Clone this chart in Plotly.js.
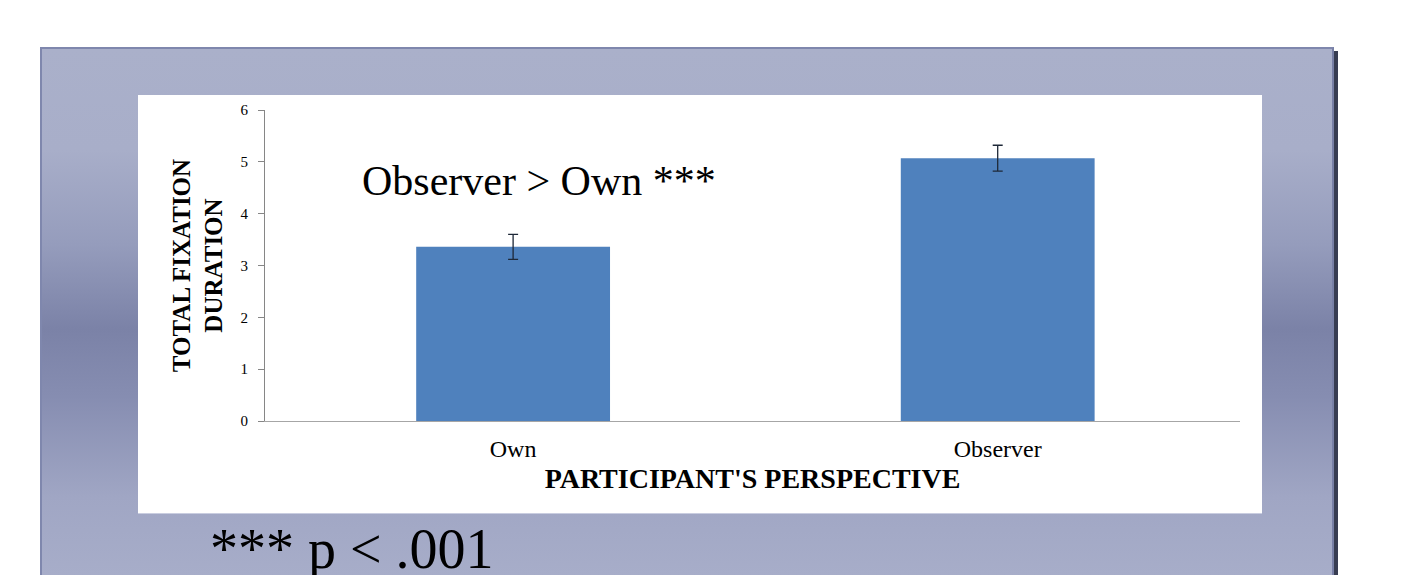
<!DOCTYPE html>
<html>
<head>
<meta charset="utf-8">
<script src="https://cdn.plot.ly/plotly-3.0.1.min.js"></script>
<style>
  html, body { margin: 0; padding: 0; background: #ffffff; width: 1415px; height: 575px; overflow: hidden; }
  #panel {
    position: absolute; left: 40px; top: 47px; width: 1290px; height: 560px;
    border-left: 2px solid #7f87ad; border-top: 2px solid #7f87ad; border-right: 2px solid #7880a6;
    background: linear-gradient(to bottom, #aab0ca 0%, #a8aec9 18%, #959cbc 35%, #7b82a7 50%, #868db1 62%, #a0a6c4 80%, #aab0cb 100%);
    box-shadow: 4px 4px 0 #383d52;
  }
  #whitebox {
    position: absolute; left: 138px; top: 95px; width: 1124px; height: 418px;
    background: #ffffff; box-shadow: 0 1px 0 #c9cde0;
  }
  #chart { position: absolute; left: 0; top: 0; width: 1415px; height: 575px; }
</style>
</head>
<body>
<div id="panel"></div>
<div id="whitebox"></div>
<div id="chart"></div>
<script>
const categories = ["Own", "Observer"];
const meanDuration = [3.36, 5.07];
const errorSize = [0.24, 0.25];
const yTickValues = [0, 1, 2, 3, 4, 5, 6];

const serif = "Liberation Serif, Times New Roman, serif";

const trace = {
  type: "bar",
  x: categories,
  y: meanDuration,
  marker: { color: "#4f81bd", line: { width: 0 } },
  error_y: { type: "data", array: errorSize, visible: true, color: "#1e2838", thickness: 1.3, width: 5 },
  hoverinfo: "x+y"
};

const layout = {
  width: 1415, height: 575,
  margin: { l: 265, r: 175, t: 110, b: 154 },
  paper_bgcolor: "rgba(0,0,0,0)",
  plot_bgcolor: "rgba(0,0,0,0)",
  showlegend: false,
  bargap: 0.6,
  xaxis: {
    type: "category",
    range: [-0.512, 1.5],
    showline: true, linecolor: "#a6a6a6", linewidth: 1.2,
    showgrid: false, zeroline: false, ticks: "",
    ticklabelstandoff: 6,
    tickfont: { family: serif, size: 24, color: "#000000" },
    title: { text: "PARTICIPANT'S PERSPECTIVE", font: { family: serif, size: 28, color: "#000000", weight: "bold" }, standoff: 7 },
    automargin: false
  },
  yaxis: {
    range: [0, 6],
    tickvals: yTickValues,
    showline: true, linecolor: "#868686", linewidth: 1,
    showgrid: false, zeroline: false,
    ticks: "outside", ticklen: 6, tickcolor: "#868686",
    ticklabelstandoff: 7,
    tickfont: { family: serif, size: 15, color: "#000000" },
    title: { text: "TOTAL FIXATION<br>DURATION", font: { family: serif, size: 25, color: "#000000", weight: "bold" }, standoff: 10 },
    automargin: false
  },
  annotations: [
    {
      text: "Observer > Own ***", xref: "paper", yref: "paper",
      x: 0.0975, y: 0.772, xanchor: "left", yanchor: "middle", showarrow: false,
      font: { family: serif, size: 42, color: "#000000" }
    },
    {
      text: "*** p < .001", xref: "paper", yref: "paper",
      x: (208 - 265) / 975, y: (421 - 549) / 311, xanchor: "left", yanchor: "middle", showarrow: false,
      font: { family: serif, size: 56, color: "#000000" }
    }
  ]
};

Plotly.newPlot("chart", [trace], layout, { displayModeBar: false, staticPlot: true });
</script>
</body>
</html>
